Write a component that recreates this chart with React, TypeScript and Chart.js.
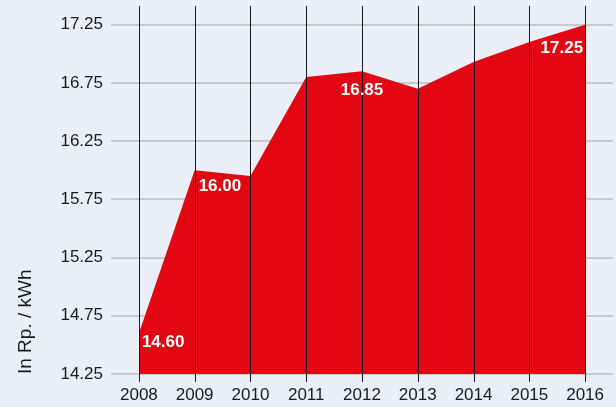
import React, { useEffect, useRef } from 'react';
import { Chart, registerables } from 'chart.js';

Chart.register(...registerables);

const years = ['2008', '2009', '2010', '2011', '2012', '2013', '2014', '2015', '2016'];
const prices = [14.6, 16.0, 15.95, 16.8, 16.85, 16.7, 16.93, 17.1, 17.25];
const yTickValues = [14.25, 14.75, 15.25, 15.75, 16.25, 16.75, 17.25];
const axisTitle = 'In Rp. / kWh';
const labelledIndices = [0, 1, 4, 8];

const RED = '#e30613';
const BG = '#eaeff7';
const INK = '#1a1a1a';
const SANS = '"Liberation Sans Narrow", "Liberation Sans", Arial, sans-serif';

const labelStyle: Record<number, { align: CanvasTextAlign; dx: number; dy: number }> = {
  0: { align: 'left', dx: 3, dy: 9 },
  1: { align: 'left', dx: 4, dy: 16 },
  4: { align: 'center', dx: 0, dy: 19 },
  8: { align: 'right', dx: -2, dy: 24 },
};

const overlayPlugin = {
  id: 'overlay',
  afterDatasetsDraw(chart: any) {
    const { ctx, chartArea, scales } = chart;
    const x = scales.x;
    ctx.save();
    ctx.strokeStyle = INK;
    ctx.lineWidth = 1;
    for (let i = 0; i < years.length; i++) {
      const px = Math.round(x.getPixelForValue(i)) + 0.5;
      ctx.beginPath();
      ctx.moveTo(px, chartArea.top);
      ctx.lineTo(px, chartArea.bottom + 8);
      ctx.stroke();
    }
    const meta = chart.getDatasetMeta(0);
    ctx.fillStyle = '#ffffff';
    ctx.font = `bold 17px ${SANS}`;
    ctx.textBaseline = 'middle';
    labelledIndices.forEach((i) => {
      const pt = meta.data[i];
      const st = labelStyle[i];
      ctx.textAlign = st.align;
      ctx.fillText(prices[i].toFixed(2), pt.x + st.dx, pt.y + st.dy);
    });
    ctx.restore();
  },
};

export default function App() {
  const ref = useRef<HTMLCanvasElement>(null);
  useEffect(() => {
    document.body.style.margin = '0';
    const chart = new Chart(ref.current!, {
      type: 'line',
      data: {
        labels: years,
        datasets: [
          {
            data: prices,
            fill: 'start',
            backgroundColor: RED,
            borderColor: RED,
            borderWidth: 0,
            pointRadius: 0,
            tension: 0,
          },
        ],
      },
      options: {
        responsive: false,
        animation: false,
        layout: { padding: { left: 0, right: 3, top: 6, bottom: 0 } },
        plugins: { legend: { display: false }, tooltip: { enabled: false } },
        scales: {
          x: {
            offset: true,
            grid: { display: false, drawTicks: false },
            border: { display: false },
            ticks: { color: INK, font: { family: SANS, size: 17 }, padding: 11, maxRotation: 0 },
            afterFit: (s: any) => {
              s.height = 33;
              s.paddingLeft = 0;
              s.paddingRight = 0;
            },
          },
          y: {
            min: 14.25,
            max: 17.41,
            grid: { color: '#c8c9cc', lineWidth: 2, drawTicks: false },
            border: { display: false },
            ticks: {
              color: INK,
              font: { family: SANS, size: 17 },
              padding: 8,
              callback: (v: any) => Number(v).toFixed(2),
            },
            afterBuildTicks: (s: any) => {
              s.ticks = yTickValues.map((v) => ({ value: v }));
            },
            title: {
              display: true,
              text: axisTitle,
              align: 'start',
              color: INK,
              font: { family: '"Liberation Sans", sans-serif', size: 19 },
              padding: { top: 14, bottom: 0 },
            },
            afterFit: (s: any) => {
              s.width = 111;
              s.paddingTop = 0;
              s.paddingBottom = 0;
            },
          },
        },
      },
      plugins: [overlayPlugin],
    });
    return () => chart.destroy();
  }, []);
  return (
    <div style={{ width: 616, height: 407, background: BG }}>
      <canvas ref={ref} width={616} height={407} style={{ display: 'block' }} />
    </div>
  );
}
